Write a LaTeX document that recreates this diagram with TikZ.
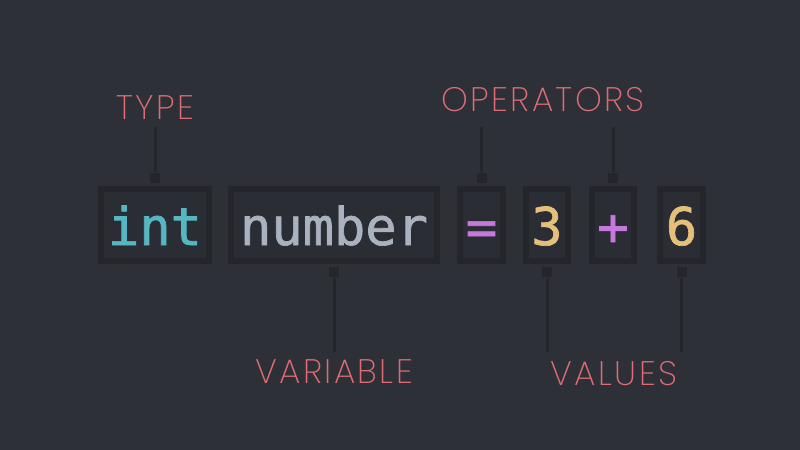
\documentclass[tikz,border=0pt]{standalone}
\usepackage{fontspec}
\newfontfamily\codefont{DejaVu Sans Mono}[FakeBold=1.3]
\IfFontExistsTF{Poppins ExtraLight}
  {\newfontfamily\tagfont{Poppins ExtraLight}[LetterSpace=7]}
  {\IfFontExistsTF{Poppins Light}
    {\newfontfamily\tagfont{Poppins Light}[LetterSpace=7]}
    {\newfontfamily\tagfont{Lato Light}[LetterSpace=9]}}
\definecolor{bgcol}{HTML}{2D3037}
\definecolor{boxcol}{HTML}{24262B}
\definecolor{boxfill}{HTML}{2A2D33}
\definecolor{tagcol}{HTML}{E06C75}
\definecolor{typecol}{HTML}{56B6C2}
\definecolor{varcol}{HTML}{ABB2BF}
\definecolor{opcol}{HTML}{C678DD}
\definecolor{numcol}{HTML}{E5C07B}
\tikzset{
  tokbox/.style={draw=boxcol, fill=boxfill, line width=3pt, minimum height=36pt,
    inner sep=0pt, font=\codefont\fontsize{26}{26}\selectfont,
    text height=20pt, text depth=0pt},
  tagtext/.style={text=tagcol, font=\tagfont\fontsize{17}{17}\selectfont, inner sep=0pt},
  tab/.style={fill=boxcol, minimum size=5pt, inner sep=0pt},
  wire/.style={draw=boxcol, line width=1.5pt}
}
\begin{document}
\begin{tikzpicture}[x=0.5pt,y=-0.5pt]
    \fill[bgcol] (0,0) rectangle (800,450);
    \useasboundingbox (0,0) rectangle (800,450);
    % the tokens
    \node[tokbox, minimum width=54pt, text=typecol] (int) at (155,225) {int};
    \node[tokbox, minimum width=103pt, text=varcol] (num) at (334,225) {number};
    \node[tokbox, minimum width=21.5pt, text=opcol] (eq) at (481.5,225) {=};
    \node[tokbox, minimum width=21pt, text=numcol] (three) at (547,225) {3};
    \node[tokbox, minimum width=21pt, text=opcol] (plus) at (613,225) {+};
    \node[tokbox, minimum width=21.5pt, text=numcol] (six) at (681.5,225) {6};
    % the labels
    \node[tagtext] (type) at (155,108) {TYPE};
    \node[tagtext] (ops) at (543,100) {OPERATORS};
    \node[tagtext] (var) at (334,372) {VARIABLE};
    \node[tagtext] (vals) at (614,374) {VALUES};
    % rails where the wires stop
    \coordinate (top) at (0,127);
    \coordinate (bot) at (0,352);
    % tabs on the boxes
    \node[tab, anchor=south] (inttab) at ([yshift=1.5pt]int.north) {};
    \node[tab, anchor=south] (eqtab) at ([yshift=1.5pt]eq.north) {};
    \node[tab, anchor=south] (plustab) at ([yshift=1.5pt]plus.north) {};
    \node[tab, anchor=north] (numtab) at ([yshift=-1.5pt]num.south) {};
    \node[tab, anchor=north] (threetab) at ([yshift=-1.5pt]three.south) {};
    \node[tab, anchor=north] (sixtab) at ([yshift=-1.5pt]six.south) {};
    % wires
    \draw[wire] (inttab.north) -- (inttab |- top);
    \draw[wire] (eqtab.north) -- (eqtab |- top);
    \draw[wire] (plustab.north) -- (plustab |- top);
    \draw[wire] (numtab.south) -- (numtab |- bot);
    \draw[wire] (threetab.south) -- (threetab |- bot);
    \draw[wire] (sixtab.south) -- (sixtab |- bot);
\end{tikzpicture}
\end{document}
